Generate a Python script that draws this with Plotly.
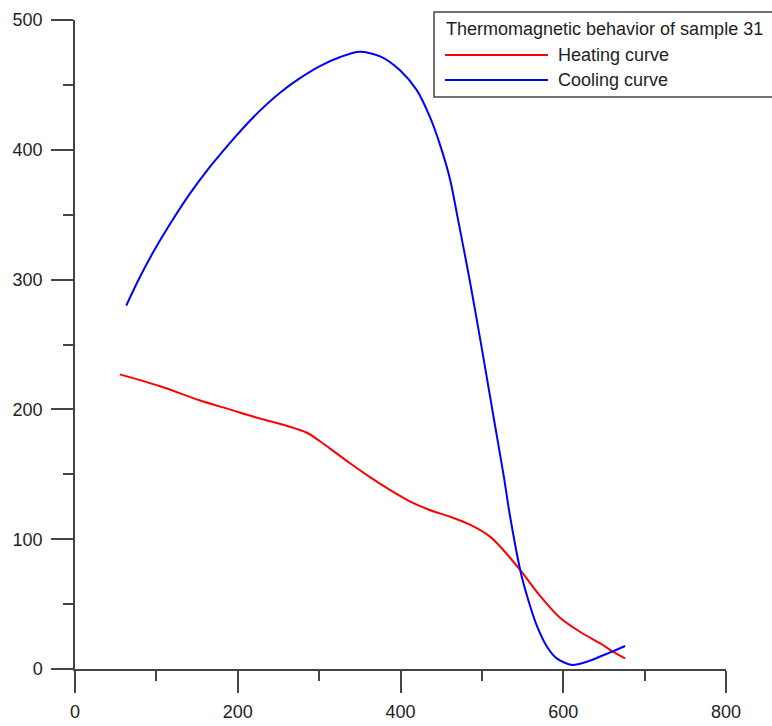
import plotly.graph_objects as go

# Thermomagnetic run of sample 31: temperature (°C) vs. magnetization signal
heating_t = [55, 104, 153, 190, 227, 262, 285, 301, 313, 338, 362, 387, 412, 436,
             461, 486, 510, 523, 547, 572, 596, 621, 646, 662, 676]
heating_m = [227, 218, 207, 200, 193, 187, 182, 175.5, 170, 158.5, 148, 138, 129, 122.5,
             117.3, 111, 102, 94, 76.3, 56, 39.5, 28.5, 19.5, 13, 8.2]

cooling_t = [63, 79, 96, 116, 141, 166, 190, 207, 227, 252, 276, 301, 326, 350,
             375, 399, 420, 436, 449, 461, 470, 485, 501, 515, 527, 534, 548,
             557, 568, 580, 592, 611, 629, 650, 662, 676]
cooling_m = [280, 301, 321, 342, 366, 387, 405, 417, 430, 444, 455, 464.5, 471.5, 475.5,
             472, 461.5, 446, 425.5, 403, 377, 348.5, 299.7, 243.2, 191.8, 148.2, 120, 73.7,
             53.2, 32.6, 17.2, 8.2, 3.1, 5.6, 10.8, 13.9, 17.7]

series_names = ["Heating curve", "Cooling curve"]
series_colors = ["#ff0000", "#0000ff"]
legend_title = "Thermomagnetic behavior of sample 31"

x_ticks = [0, 200, 400, 600, 800]
y_ticks = [0, 100, 200, 300, 400, 500]

FONT = "Liberation Sans, Arial, sans-serif"
AXIS_COLOR = "#444444"
TEXT_COLOR = "#1e1e1e"

fig = go.Figure()
for t, m, name, color in zip([heating_t, cooling_t], [heating_m, cooling_m],
                             series_names, series_colors):
    fig.add_trace(go.Scatter(
        x=t, y=m, mode="lines", name=name, showlegend=False,
        line=dict(color=color, width=2, shape="spline", smoothing=0.8),
        cliponaxis=False,
    ))

axis_common = dict(
    showgrid=False, zeroline=False, showline=True, automargin=False,
    linecolor=AXIS_COLOR, linewidth=1.5,
    ticks="outside", ticklen=22, tickwidth=1.5, tickcolor=AXIS_COLOR,
    tickfont=dict(family=FONT, size=18, color=TEXT_COLOR),
    minor=dict(ticks="outside", ticklen=10, tickwidth=1.5, tickcolor=AXIS_COLOR),
)

fig.update_xaxes(range=[0, 800], tickvals=x_ticks, ticklabelstandoff=4,
                 minor_dtick=100, minor_tick0=0, **axis_common)
fig.update_yaxes(range=[0, 500], tickvals=y_ticks, ticklabelstandoff=5,
                 minor_dtick=50, minor_tick0=0, **axis_common)

# Legend box drawn by hand so the sample lines can be long
px_x = lambda p: (p - 75) / 651
px_y = lambda p: (669 - p) / 649

shapes = [dict(type="rect", xref="paper", yref="paper",
               x0=px_x(434), x1=px_x(790), y0=px_y(97), y1=px_y(12),
               line=dict(color=AXIS_COLOR, width=1.5), fillcolor="white", layer="above")]
annotations = [dict(xref="paper", yref="paper", x=px_x(444), y=px_y(29),
                    xanchor="left", yanchor="middle", showarrow=False,
                    text=legend_title,
                    font=dict(family=FONT, size=18, color=TEXT_COLOR))]
for i, (name, color) in enumerate(zip(series_names, series_colors)):
    yy = px_y(55 + 25 * i)
    shapes.append(dict(type="line", xref="paper", yref="paper",
                       x0=px_x(445), x1=px_x(548), y0=yy, y1=yy,
                       line=dict(color=color, width=2), layer="above"))
    annotations.append(dict(xref="paper", yref="paper", x=px_x(556), y=yy,
                            xanchor="left", yanchor="middle", showarrow=False,
                            text=name,
                            font=dict(family=FONT, size=18, color=TEXT_COLOR)))

fig.update_layout(
    width=772, height=726,
    margin=dict(l=75, r=46, t=20, b=57),
    plot_bgcolor="white", paper_bgcolor="white",
    shapes=shapes, annotations=annotations,
    font=dict(family=FONT, size=18, color=TEXT_COLOR),
)

fig.write_html("out.html")
